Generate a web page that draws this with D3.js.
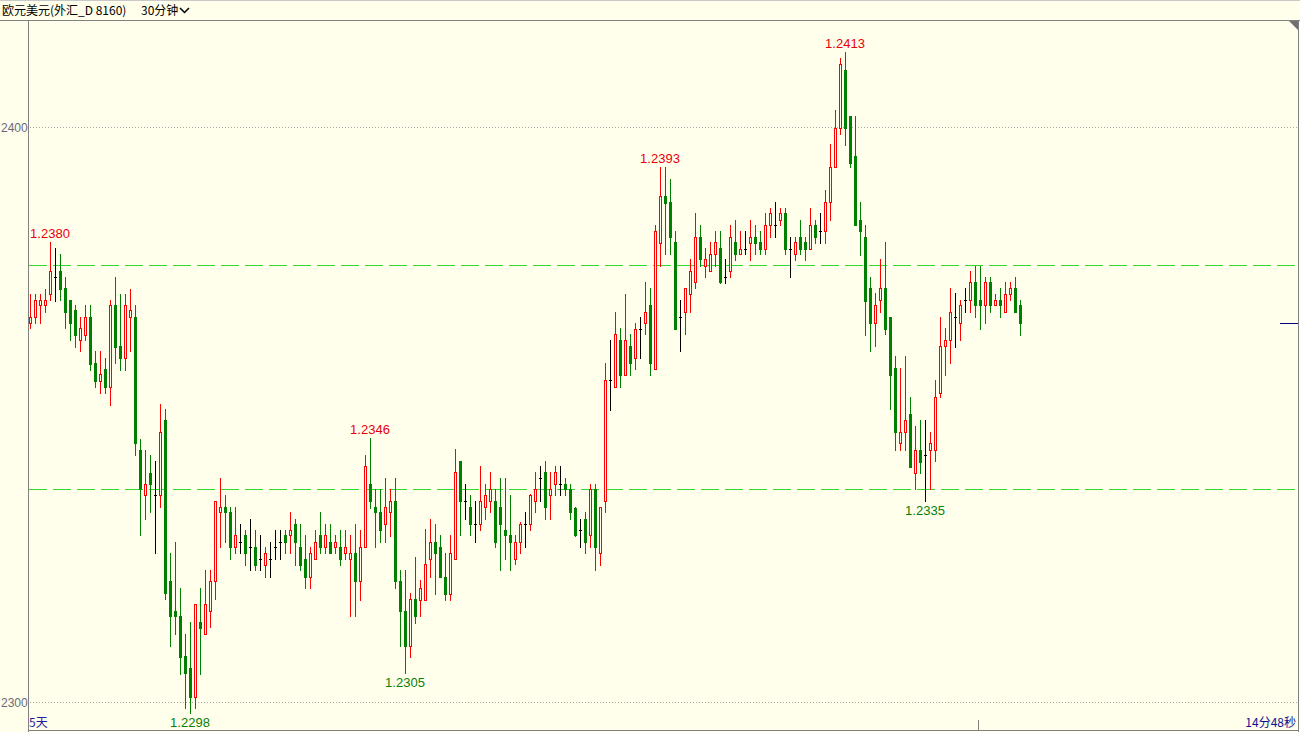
<!DOCTYPE html>
<html><head><meta charset="utf-8">
<script src="https://cdn.jsdelivr.net/npm/d3@7"></script>
<style>
html,body{margin:0;padding:0;background:#FFFFEC;overflow:hidden;}
svg{display:block;}
</style></head>
<body>
<svg id="chart" width="1300" height="732"></svg>
<script>
const opens = [1.23659,1.23669,1.23690,1.23690,1.23710,1.23739,1.23749,1.23720,1.23699,1.23681,
1.23629,1.23639,1.23669,1.23589,1.23559,1.23579,1.23548,1.23690,1.23619,1.23599,
1.23669,1.23669,1.23439,1.23360,1.23399,1.23360,1.23360,1.23490,1.23210,1.23159,
1.23149,1.23080,1.23059,1.23009,1.23139,1.23119,1.23159,1.23210,1.23330,1.23339,
1.23330,1.23269,1.23279,1.23290,1.23269,1.23269,1.23249,1.23239,1.23249,1.23269,
1.23279,1.23290,1.23290,1.23309,1.23269,1.23249,1.23218,1.23249,1.23290,1.23269,
1.23279,1.23269,1.23269,1.23259,1.23249,1.23259,1.23210,1.23269,1.23379,1.23339,
1.23330,1.23309,1.23330,1.23349,1.23210,1.23159,1.23097,1.23179,1.23177,1.23177,
1.23249,1.23279,1.23269,1.23218,1.23188,1.23249,1.23419,1.23349,1.23339,1.23309,
1.23309,1.23339,1.23349,1.23349,1.23339,1.23299,1.23290,1.23249,1.23279,1.23309,
1.23309,1.23349,1.23390,1.23400,1.23360,1.23379,1.23379,1.23379,1.23370,1.23338,
1.23299,1.23319,1.23290,1.23370,1.23259,1.23349,1.23560,1.23548,1.23630,1.23569,
1.23619,1.23599,1.23649,1.23660,1.23690,1.23579,1.23799,1.23880,1.23870,1.23800,
1.23669,1.23679,1.23710,1.23730,1.23809,1.23759,1.23749,1.23779,1.23789,1.23739,
1.23749,1.23800,1.23779,1.23788,1.23799,1.23809,1.23800,1.23788,1.23829,1.23829,
1.23839,1.23850,1.23788,1.23779,1.23809,1.23800,1.23788,1.23829,1.23819,1.23819,
1.23870,1.23930,1.23999,1.24099,1.24019,1.23950,1.23839,1.23809,1.23720,1.23659,
1.23699,1.23720,1.23670,1.23580,1.23450,1.23469,1.23500,1.23399,1.23439,1.23429,
1.23439,1.23439,1.23538,1.23619,1.23630,1.23669,1.23659,1.23699,1.23699,1.23730,
1.23699,1.23690,1.23730,1.23690,1.23699,1.23679,1.23710,1.23720,1.23690];
const highs = [1.23710,1.23710,1.23710,1.23719,1.23800,1.23790,1.23779,1.23739,1.23699,1.23690,
1.23670,1.23690,1.23690,1.23610,1.23610,1.23599,1.23699,1.23739,1.23710,1.23710,
1.23719,1.23690,1.23458,1.23439,1.23429,1.23419,1.23519,1.23509,1.23259,1.23279,
1.23199,1.23119,1.23139,1.23170,1.23199,1.23229,1.23229,1.23349,1.23390,1.23360,
1.23339,1.23339,1.23309,1.23299,1.23319,1.23299,1.23290,1.23269,1.23279,1.23299,
1.23299,1.23299,1.23330,1.23319,1.23309,1.23290,1.23269,1.23299,1.23330,1.23309,
1.23309,1.23290,1.23299,1.23299,1.23290,1.23309,1.23299,1.23429,1.23460,1.23370,
1.23370,1.23390,1.23370,1.23390,1.23229,1.23229,1.23189,1.23252,1.23212,1.23300,
1.23319,1.23309,1.23290,1.23259,1.23290,1.23440,1.23419,1.23379,1.23360,1.23349,
1.23410,1.23379,1.23400,1.23370,1.23390,1.23390,1.23360,1.23290,1.23313,1.23330,
1.23361,1.23400,1.23410,1.23419,1.23400,1.23410,1.23410,1.23390,1.23379,1.23339,
1.23319,1.23330,1.23379,1.23379,1.23339,1.23589,1.23630,1.23679,1.23650,1.23710,
1.23640,1.23660,1.23670,1.23730,1.23720,1.23829,1.23931,1.23931,1.23909,1.23819,
1.23699,1.23720,1.23771,1.23850,1.23829,1.23790,1.23800,1.23820,1.23819,1.23770,
1.23829,1.23839,1.23819,1.23819,1.23839,1.23829,1.23819,1.23850,1.23859,1.23870,
1.23859,1.23859,1.23809,1.23809,1.23839,1.23809,1.23859,1.23839,1.23850,1.23890,
1.23970,1.24030,1.24120,1.24130,1.24019,1.24019,1.23870,1.23829,1.23739,1.23711,
1.23771,1.23800,1.23670,1.23601,1.23580,1.23601,1.23531,1.23480,1.23490,1.23490,
1.23470,1.23560,1.23670,1.23650,1.23720,1.23711,1.23699,1.23720,1.23750,1.23759,
1.23759,1.23739,1.23739,1.23710,1.23720,1.23730,1.23730,1.23739,1.23699];
const lows = [1.23650,1.23659,1.23659,1.23679,1.23699,1.23698,1.23699,1.23650,1.23629,1.23618,
1.23610,1.23629,1.23577,1.23548,1.23538,1.23538,1.23517,1.23589,1.23577,1.23577,
1.23610,1.23429,1.23290,1.23319,1.23330,1.23259,1.23339,1.23179,1.23097,1.23118,
1.23049,1.22989,1.22980,1.22989,1.23049,1.23119,1.23130,1.23179,1.23269,1.23278,
1.23249,1.23259,1.23259,1.23239,1.23229,1.23229,1.23229,1.23218,1.23218,1.23249,
1.23249,1.23259,1.23259,1.23239,1.23229,1.23199,1.23199,1.23249,1.23259,1.23259,
1.23259,1.23259,1.23239,1.23249,1.23149,1.23149,1.23177,1.23269,1.23337,1.23269,
1.23279,1.23279,1.23289,1.23198,1.23097,1.23050,1.23079,1.23138,1.23149,1.23177,
1.23218,1.23188,1.23218,1.23177,1.23177,1.23249,1.23290,1.23319,1.23290,1.23279,
1.23299,1.23319,1.23330,1.23269,1.23229,1.23249,1.23229,1.23240,1.23259,1.23269,
1.23299,1.23330,1.23349,1.23319,1.23319,1.23360,1.23360,1.23360,1.23319,1.23289,
1.23269,1.23259,1.23269,1.23229,1.23239,1.23330,1.23508,1.23548,1.23548,1.23569,
1.23569,1.23579,1.23599,1.23640,1.23569,1.23579,1.23759,1.23779,1.23779,1.23649,
1.23610,1.23640,1.23679,1.23720,1.23759,1.23739,1.23749,1.23759,1.23728,1.23728,
1.23739,1.23769,1.23779,1.23779,1.23769,1.23779,1.23779,1.23779,1.23809,1.23809,
1.23829,1.23779,1.23739,1.23769,1.23779,1.23769,1.23788,1.23799,1.23799,1.23799,
1.23839,1.23938,1.23988,1.23969,1.23930,1.23829,1.23778,1.23639,1.23610,1.23619,
1.23679,1.23640,1.23509,1.23439,1.23439,1.23439,1.23409,1.23370,1.23399,1.23349,
1.23370,1.23419,1.23531,1.23569,1.23589,1.23618,1.23629,1.23679,1.23679,1.23669,
1.23649,1.23659,1.23679,1.23690,1.23669,1.23679,1.23699,1.23679,1.23639];
const closes = [1.23669,1.23699,1.23699,1.23699,1.23749,1.23739,1.23719,1.23679,1.23659,1.23639,
1.23650,1.23669,1.23588,1.23559,1.23570,1.23548,1.23690,1.23618,1.23599,1.23690,
1.23681,1.23450,1.23371,1.23379,1.23379,1.23360,1.23469,1.23189,1.23149,1.23149,
1.23079,1.23050,1.23009,1.23170,1.23129,1.23170,1.23210,1.23349,1.23339,1.23330,
1.23269,1.23290,1.23279,1.23259,1.23269,1.23239,1.23249,1.23259,1.23249,1.23269,
1.23279,1.23279,1.23299,1.23279,1.23239,1.23218,1.23259,1.23279,1.23269,1.23290,
1.23259,1.23279,1.23249,1.23269,1.23259,1.23210,1.23269,1.23410,1.23349,1.23330,
1.23299,1.23339,1.23349,1.23210,1.23159,1.23097,1.23179,1.23149,1.23199,1.23240,
1.23279,1.23259,1.23218,1.23188,1.23259,1.23400,1.23349,1.23349,1.23309,1.23309,
1.23349,1.23360,1.23370,1.23279,1.23309,1.23290,1.23279,1.23279,1.23309,1.23309,
1.23360,1.23370,1.23390,1.23339,1.23370,1.23400,1.23379,1.23370,1.23330,1.23290,
1.23299,1.23279,1.23370,1.23269,1.23339,1.23560,1.23560,1.23640,1.23569,1.23630,
1.23589,1.23649,1.23649,1.23679,1.23589,1.23819,1.23880,1.23868,1.23809,1.23649,
1.23669,1.23720,1.23749,1.23809,1.23770,1.23770,1.23779,1.23800,1.23730,1.23739,
1.23809,1.23779,1.23788,1.23788,1.23809,1.23799,1.23788,1.23829,1.23850,1.23829,
1.23850,1.23788,1.23788,1.23800,1.23788,1.23788,1.23829,1.23809,1.23819,1.23870,
1.23930,1.23999,1.24110,1.23999,1.23938,1.23829,1.23819,1.23698,1.23659,1.23690,
1.23720,1.23649,1.23569,1.23469,1.23470,1.23490,1.23409,1.23439,1.23417,1.23429,
1.23450,1.23530,1.23619,1.23630,1.23679,1.23669,1.23690,1.23699,1.23730,1.23690,
1.23690,1.23730,1.23690,1.23699,1.23690,1.23710,1.23720,1.23679,1.23659];

const gridPrices = [1.2300, 1.2400];
const gridLabels = ["2300", "2400"];
const dashedPrices = [1.23760, 1.23370];
const highLabelIdx = [4, 68, 126, 163];
const lowLabelIdx = [32, 75, 179];
const titleMain = "欧元美元(外汇_D 8160)";
const titlePeriod = "30分钟";
const periodLabel = "5天";
const countdownLabel = "14分48秒";

const W = 1300, H = 732;
const BG = "#FFFFEC";
const UP = "#FF0000", DOWN = "#008000", FLAT = "#000000";
const svg = d3.select("#chart");

svg.append("rect").attr("width", W).attr("height", H).attr("fill", BG);

const n = closes.length;
const x = d3.scaleLinear().domain([0, n - 1]).range([30, 1020]);
const y = d3.scaleLinear().domain([1.23, 1.24]).range([702, 127]);
const py = v => Math.round(y(v));

// frame
const frame = svg.append("g").attr("shape-rendering", "crispEdges");
frame.append("line").attr("x1", 0).attr("x2", W).attr("y1", 0.5).attr("y2", 0.5).attr("stroke", "#C8C8C8");
frame.append("line").attr("x1", 0).attr("x2", W).attr("y1", 20.5).attr("y2", 20.5).attr("stroke", "#808080");
frame.append("line").attr("x1", 28.5).attr("x2", 28.5).attr("y1", 21).attr("y2", H).attr("stroke", "#808080");
frame.append("line").attr("x1", 1298.5).attr("x2", 1298.5).attr("y1", 21).attr("y2", H).attr("stroke", "#808080");
frame.append("line").attr("x1", 28).attr("x2", 1299).attr("y1", 730.5).attr("y2", 730.5).attr("stroke", "#808080");
svg.append("path").attr("d", "M1289,21 L1298,21 L1298,30 Z").attr("fill", "#707070");

// title
svg.append("text").attr("x", 2).attr("y", 15).attr("font-family", "'Noto Sans CJK SC', sans-serif")
  .attr("font-size", 12).attr("fill", "#000").text(titleMain);
svg.append("text").attr("x", 141).attr("y", 15).attr("font-family", "'Noto Sans CJK SC', sans-serif")
  .attr("font-size", 12).attr("fill", "#000").text(titlePeriod);
svg.append("path").attr("d", "M180,8 L184.5,12.5 L189,8").attr("fill", "none").attr("stroke", "#000").attr("stroke-width", 1.5);

// grid
const grid = svg.append("g");
gridPrices.forEach((p, k) => {
  grid.append("line").attr("x1", 30).attr("x2", 1297).attr("y1", py(p) + 0.5).attr("y2", py(p) + 0.5)
    .attr("stroke", "#A8A8A8").attr("stroke-dasharray", "1,2").attr("shape-rendering", "crispEdges");
  grid.append("text").attr("x", 1).attr("y", py(p) + 5).attr("text-anchor", "start")
    .attr("font-family", "'Liberation Sans', Arial, sans-serif").attr("font-size", 12)
    .attr("fill", "#6A6A7A").text(gridLabels[k]);
});
dashedPrices.forEach(p => {
  grid.append("line").attr("x1", 29).attr("x2", 1297).attr("y1", py(p) + 0.5).attr("y2", py(p) + 0.5)
    .attr("stroke", "#2EDB2E").attr("stroke-dasharray", "18,6").attr("shape-rendering", "crispEdges");
});

// candles
const cg = svg.append("g").attr("shape-rendering", "crispEdges");
d3.range(n).forEach(i => {
  const o = opens[i], h = highs[i], l = lows[i], c = closes[i];
  const cx = Math.round(x(i));
  const col = c > o ? UP : (c < o ? DOWN : FLAT);
  cg.append("line").attr("x1", cx + 0.5).attr("x2", cx + 0.5).attr("y1", py(h)).attr("y2", py(l) + 1).attr("stroke", col);
  const top = Math.min(py(o), py(c)), bot = Math.max(py(o), py(c));
  if (c > o) {
    cg.append("rect").attr("x", cx - 0.5).attr("y", top + 0.5).attr("width", 2).attr("height", Math.max(bot - top, 1))
      .attr("fill", BG).attr("stroke", UP);
  } else if (c < o) {
    cg.append("rect").attr("x", cx - 1).attr("y", top).attr("width", 3).attr("height", Math.max(bot - top, 1) + 1)
      .attr("fill", DOWN);
  } else {
    cg.append("line").attr("x1", cx - 1).attr("x2", cx + 2).attr("y1", top + 0.5).attr("y2", top + 0.5).attr("stroke", FLAT);
  }
});

// extreme labels
const lf = "'Liberation Sans', Arial, sans-serif";
highLabelIdx.forEach(i => {
  svg.append("text").attr("x", x(i)).attr("y", py(highs[i]) - 4).attr("text-anchor", "middle")
    .attr("font-family", lf).attr("font-size", 13).attr("fill", "#E8000A").text(d3.format(".4f")(highs[i]));
});
lowLabelIdx.forEach(i => {
  svg.append("text").attr("x", x(i)).attr("y", py(lows[i]) + 14).attr("text-anchor", "middle")
    .attr("font-family", lf).attr("font-size", 13).attr("fill", "#0A800A").text(d3.format(".4f")(lows[i]));
});

// last price marker
svg.append("line").attr("x1", 1280).attr("x2", 1298).attr("y1", py(closes[n - 1]) + 0.5).attr("y2", py(closes[n - 1]) + 0.5)
  .attr("stroke", "#000080").attr("shape-rendering", "crispEdges");

// bottom texts
svg.append("text").attr("x", 29).attr("y", 727).attr("font-family", "'Noto Sans CJK SC', sans-serif")
  .attr("font-size", 12).attr("fill", "#2020A0").text(periodLabel);
svg.append("text").attr("x", 1296).attr("y", 727).attr("text-anchor", "end").attr("font-family", "'Noto Sans CJK SC', sans-serif")
  .attr("font-size", 12).attr("fill", "#101090").text(countdownLabel);
svg.append("line").attr("x1", 978.5).attr("x2", 978.5).attr("y1", 720).attr("y2", 730).attr("stroke", "#808080").attr("shape-rendering", "crispEdges");
</script>
</body></html>
